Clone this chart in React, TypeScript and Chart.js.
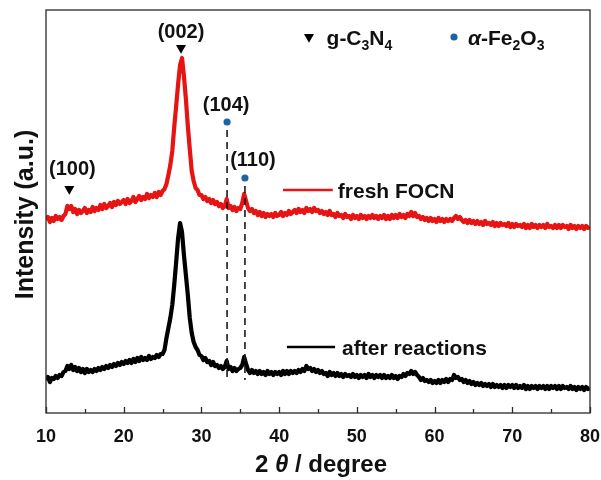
import React, { useEffect, useRef } from 'react';
import { Chart, registerables } from 'chart.js';

Chart.register(...registerables);

// Sampling grid of the scans (2θ, degrees)
const THETA_START = 10;
const THETA_STEP = 0.25;

// Intensity (a.u.), one value per 0.25° from 10° to 80°
const FRESH_FOCN = [
  193, 196, 191, 195, // 10
  192, 197, 194, 196, // 11
  193, 197, 199, 207, // 12
  204, 207, 201, 204, // 13
  199, 203, 200, 202, // 14
  205, 200, 203, 201, // 15
  206, 202, 205, 203, // 16
  208, 204, 209, 205, // 17
  207, 210, 206, 211, // 18
  208, 212, 209, 211, // 19
  213, 209, 214, 210, // 20
  212, 216, 211, 214, // 21
  217, 213, 216, 214, // 22
  219, 215, 218, 216, // 23
  220, 216, 221, 218, // 24
  222, 224, 229, 238, // 25
  248, 262, 286, 307, // 26
  329, 348, 355, 337, // 27
  314, 287, 264, 242, // 28
  232, 225, 223, 218, // 29
  218, 214, 216, 212, // 30
  214, 210, 213, 209, // 31
  211, 207, 209, 205, // 32
  207, 214, 205, 207, // 33
  203, 206, 202, 205, // 34
  204, 210, 219, 212, // 35
  205, 202, 204, 200, // 36
  202, 198, 201, 197, // 37
  200, 196, 199, 197, // 38
  199, 196, 200, 197, // 39
  198, 201, 197, 200, // 40
  198, 202, 199, 201, // 41
  203, 200, 204, 201, // 42
  203, 200, 205, 202, // 43
  204, 201, 205, 202, // 44
  203, 200, 202, 199, // 45
  201, 198, 202, 198, // 46
  199, 196, 200, 197, // 47
  198, 195, 199, 196, // 48
  197, 194, 198, 195, // 49
  197, 194, 198, 195, // 50
  197, 194, 197, 195, // 51
  198, 195, 197, 194, // 52
  197, 195, 198, 194, // 53
  197, 194, 198, 195, // 54
  198, 195, 199, 196, // 55
  198, 195, 199, 197, // 56
  201, 197, 200, 196, // 57
  197, 194, 196, 193, // 58
  195, 192, 195, 192, // 59
  194, 191, 195, 192, // 60
  194, 191, 194, 192, // 61
  194, 192, 195, 197, // 62
  194, 196, 193, 191, // 63
  193, 190, 193, 190, // 64
  192, 189, 192, 189, // 65
  191, 188, 192, 189, // 66
  190, 188, 191, 187, // 67
  190, 187, 190, 188, // 68
  189, 187, 190, 186, // 69
  189, 186, 189, 187, // 70
  188, 186, 189, 185, // 71
  188, 185, 189, 186, // 72
  188, 185, 188, 186, // 73
  188, 185, 189, 186, // 74
  187, 185, 188, 185, // 75
  188, 185, 188, 186, // 76
  187, 184, 188, 185, // 77
  187, 184, 187, 185, // 78
  187, 184, 187, 185, // 79
  186, // 80
];

const AFTER_REACTIONS = [
  33, 36, 31, 35, // 10
  34, 37, 35, 38, // 11
  37, 41, 42, 47, // 12
  44, 48, 43, 46, // 13
  42, 45, 41, 44, // 14
  40, 44, 41, 43, // 15
  41, 44, 42, 45, // 16
  43, 46, 44, 47, // 17
  45, 48, 46, 49, // 18
  47, 50, 48, 51, // 19
  49, 52, 50, 53, // 20
  50, 54, 51, 55, // 21
  52, 56, 53, 55, // 22
  53, 57, 54, 56, // 23
  55, 58, 56, 59, // 24
  59, 63, 75, 85, // 25
  95, 108, 128, 151, // 26
  175, 190, 181, 158, // 27
  138, 118, 95, 80, // 28
  71, 66, 63, 58, // 29
  57, 53, 55, 51, // 30
  52, 48, 51, 47, // 31
  48, 45, 47, 44, // 32
  46, 52, 44, 46, // 33
  42, 45, 42, 44, // 34
  45, 48, 56, 49, // 35
  43, 40, 43, 40, // 36
  42, 39, 42, 39, // 37
  41, 38, 42, 39, // 38
  41, 38, 41, 39, // 39
  41, 38, 42, 39, // 40
  42, 39, 42, 40, // 41
  42, 40, 43, 41, // 42
  44, 42, 47, 44, // 43
  45, 42, 44, 41, // 44
  43, 40, 42, 39, // 45
  40, 37, 41, 38, // 46
  40, 37, 40, 37, // 47
  39, 36, 39, 37, // 48
  38, 36, 39, 36, // 49
  38, 35, 38, 36, // 50
  38, 35, 39, 36, // 51
  38, 35, 38, 36, // 52
  38, 35, 38, 35, // 53
  37, 35, 38, 35, // 54
  37, 34, 37, 36, // 55
  39, 37, 40, 39, // 56
  42, 39, 41, 38, // 57
  36, 33, 35, 32, // 58
  33, 31, 33, 30, // 59
  32, 30, 33, 30, // 60
  33, 31, 34, 31, // 61
  34, 33, 38, 35, // 62
  36, 33, 34, 31, // 63
  33, 30, 32, 29, // 64
  31, 28, 30, 28, // 65
  30, 27, 29, 27, // 66
  29, 26, 29, 26, // 67
  28, 26, 28, 25, // 68
  28, 25, 28, 26, // 69
  28, 25, 28, 25, // 70
  27, 25, 28, 24, // 71
  27, 24, 27, 25, // 72
  27, 24, 27, 25, // 73
  27, 24, 27, 24, // 74
  27, 25, 27, 24, // 75
  27, 24, 27, 25, // 76
  26, 24, 27, 24, // 77
  26, 23, 26, 24, // 78
  26, 23, 26, 24, // 79
  25, // 80
];

// Axis
const X_MIN = 10;
const X_MAX = 80;
const X_TICK_STEP = 10;
const Y_MIN = 0;
const Y_MAX = 403;

// Reflection markers
const GCN_LABELS = ['(100)', '(002)'];
const GCN_THETA = [13.0, 27.37];
const GCN_MARK_Y = [224, 365];
const FE_LABELS = ['(104)', '(110)'];
const FE_THETA = [33.3, 35.6];
const FE_MARK_Y = [291, 235];
const FE_LINE_TOP = [283, 227];
const FE_LINE_BOTTOM = 33;

// Series names
const SERIES_NAMES = ['fresh FOCN', 'after reactions'];

const FONT = '"Liberation Sans", Arial, Helvetica, sans-serif';
const RED = 'rgb(230,20,18)';
const BLUE = '#1c63a8';

type Part = { t: string; italic?: boolean; sub?: boolean };

function drawRich(ctx: CanvasRenderingContext2D, parts: Part[], x: number, yMid: number, size: number, align: 'left' | 'center' = 'left') {
  const subSize = Math.round(size * 0.65);
  const fontFor = (p: Part) => `${p.italic ? 'italic ' : ''}bold ${p.sub ? subSize : size}px ${FONT}`;
  let total = 0;
  const widths = parts.map((p) => {
    ctx.font = fontFor(p);
    const w = ctx.measureText(p.t).width;
    total += w;
    return w;
  });
  let cx = align === 'center' ? x - total / 2 : x;
  const baseline = yMid + size * 0.36;
  ctx.textAlign = 'left';
  ctx.textBaseline = 'alphabetic';
  parts.forEach((p, i) => {
    ctx.font = fontFor(p);
    ctx.fillText(p.t, cx, p.sub ? baseline + size * 0.28 : baseline);
    cx += widths[i];
  });
}

const decorPlugin = {
  id: 'decor',
  afterDatasetsDraw(chart: any) {
    const { ctx, chartArea: a, scales } = chart;
    const x = scales.x;
    const y = scales.y;
    const px = (v: number) => x.getPixelForValue(v);
    const py = (v: number) => y.getPixelForValue(v);
    ctx.save();
    // frame
    ctx.strokeStyle = '#2a2a2a';
    ctx.lineWidth = 1.3;
    ctx.strokeRect(a.left, a.top, a.right - a.left, a.bottom - a.top);
    // inward ticks, major and minor
    ctx.beginPath();
    for (let t = X_MIN; t <= X_MAX; t += X_TICK_STEP / 2) {
      const major = (t - X_MIN) % X_TICK_STEP === 0;
      const p = Math.round(px(t)) + 0.5;
      ctx.moveTo(p, a.bottom);
      ctx.lineTo(p, a.bottom - (major ? 6 : 4));
    }
    ctx.stroke();

    ctx.fillStyle = '#111';
    // hkl labels
    const hklOffsets = [
      [3, -21],
      [0, -17],
      [-1, -18],
      [8, -19],
    ];
    const allLabels = [...GCN_LABELS, ...FE_LABELS];
    const allTheta = [...GCN_THETA, ...FE_THETA];
    const allY = [...GCN_MARK_Y, ...FE_MARK_Y];
    allLabels.forEach((lab, i) => {
      drawRich(ctx, [{ t: lab }], px(allTheta[i]) + hklOffsets[i][0], py(allY[i]) + hklOffsets[i][1], 20, 'center');
    });

    // phase legend
    drawRich(ctx, [{ t: 'g-C' }, { t: '3', sub: true }, { t: 'N' }, { t: '4', sub: true }], px(46.1), py(376), 21);
    drawRich(ctx, [{ t: 'α', italic: true }, { t: '-Fe' }, { t: '2', sub: true }, { t: 'O' }, { t: '3', sub: true }], px(64.3), py(376), 21);

    // series legend
    drawRich(ctx, [{ t: SERIES_NAMES[0] }], px(47.55), py(223), 21);
    drawRich(ctx, [{ t: SERIES_NAMES[1] }], px(48.1), py(66), 21);

    // x title
    drawRich(ctx, [{ t: '2 ' }, { t: 'θ', italic: true }, { t: ' / degree' }], (a.left + a.right) / 2 + 3, 463, 24, 'center');

    // y title
    ctx.save();
    ctx.translate(24, (a.top + a.bottom) / 2 + 3);
    ctx.rotate(-Math.PI / 2);
    drawRich(ctx, [{ t: 'Intensity (a.u.)' }], 0, 0, 25, 'center');
    ctx.restore();

    ctx.restore();
  },
};

export default function App() {
  const ref = useRef<HTMLCanvasElement | null>(null);

  useEffect(() => {
    if (!ref.current) return;
    const toPoints = (arr: number[]) => arr.map((v, i) => ({ x: THETA_START + i * THETA_STEP, y: v }));

    const chart = new Chart(ref.current, {
      type: 'line',
      data: {
        datasets: [
          {
            label: 'g-C3N4 markers',
            data: [
              ...GCN_THETA.map((t, i) => ({ x: t, y: GCN_MARK_Y[i] })),
              { x: 43.84, y: 376 },
            ],
            showLine: false,
            pointStyle: 'triangle',
            pointRotation: 180,
            pointRadius: 5.8,
            pointBackgroundColor: '#000',
            pointBorderWidth: 0,
            borderColor: '#000',
          } as any,
          {
            label: 'Fe2O3 markers',
            data: [
              ...FE_THETA.map((t, i) => ({ x: t, y: FE_MARK_Y[i] })),
              { x: 62.5, y: 376 },
            ],
            showLine: false,
            pointStyle: 'circle',
            pointRadius: 3.6,
            pointBackgroundColor: BLUE,
            pointBorderWidth: 0,
            borderColor: BLUE,
          } as any,
          ...FE_THETA.map((t, i) => ({
            label: 'dash' + i,
            data: [
              { x: t, y: FE_LINE_TOP[i] },
              { x: t, y: FE_LINE_BOTTOM },
            ],
            borderColor: '#1a1a1a',
            borderWidth: 1.6,
            borderDash: [7, 5],
            pointRadius: 0,
          })),
          {
            label: 'legend fresh',
            data: [
              { x: 40.5, y: 223 },
              { x: 46.9, y: 223 },
            ],
            borderColor: RED,
            borderWidth: 2.5,
            pointRadius: 0,
          },
          {
            label: 'legend after',
            data: [
              { x: 41.0, y: 66 },
              { x: 47.2, y: 66 },
            ],
            borderColor: '#000',
            borderWidth: 2.5,
            pointRadius: 0,
          },
          {
            label: SERIES_NAMES[0],
            data: toPoints(FRESH_FOCN),
            borderColor: RED,
            borderWidth: 4.2,
            borderJoinStyle: 'round',
            pointRadius: 0,
            tension: 0,
          },
          {
            label: SERIES_NAMES[1],
            data: toPoints(AFTER_REACTIONS),
            borderColor: '#000',
            borderWidth: 4.2,
            borderJoinStyle: 'round',
            pointRadius: 0,
            tension: 0,
          },
        ],
      },
      options: {
        responsive: false,
        animation: false,
        events: [],
        layout: { padding: { left: 46, right: 11, top: 10, bottom: 0 } },
        plugins: { legend: { display: false }, tooltip: { enabled: false } },
        scales: {
          x: {
            type: 'linear',
            min: X_MIN,
            max: X_MAX,
            ticks: {
              stepSize: X_TICK_STEP,
              padding: 13,
              color: '#111',
              font: { family: FONT, size: 18, weight: 'bold' },
            },
            grid: { display: false, drawTicks: false },
            border: { display: false },
            afterFit: (scale: any) => {
              scale.height = 67;
              scale.paddingLeft = 0;
              scale.paddingRight = 0;
            },
          },
          y: {
            type: 'linear',
            display: false,
            min: Y_MIN,
            max: Y_MAX,
          },
        },
      },
      plugins: [decorPlugin],
    });
    return () => chart.destroy();
  }, []);

  return (
    <div style={{ position: 'absolute', left: 0, top: 0, width: 601, height: 480, background: '#fff' }}>
      <canvas ref={ref} width={601} height={480} />
    </div>
  );
}
